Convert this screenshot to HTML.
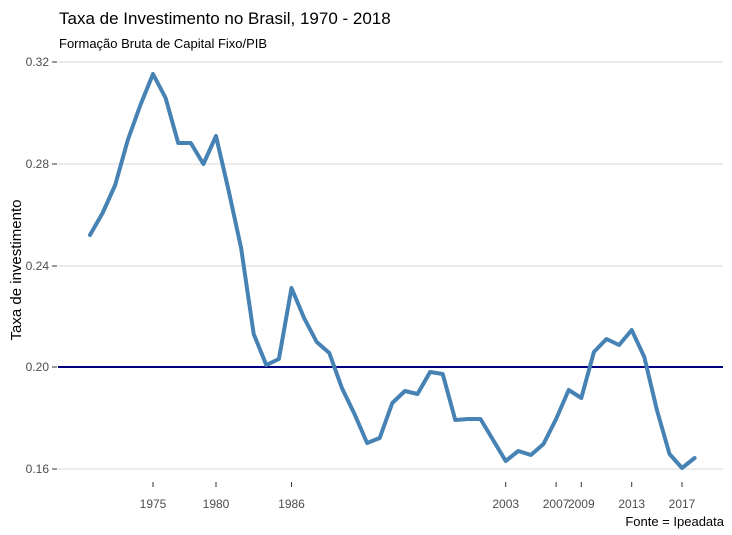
<!DOCTYPE html>
<html><head><meta charset="utf-8"><style>
body{margin:0;background:#fff;}
svg{display:block;font-family:"Liberation Sans",sans-serif;}
</style></head><body>
<svg width="732" height="535" viewBox="0 0 732 535">
<rect width="732" height="535" fill="#fff"/>
<text x="59" y="24" font-size="17" fill="#000">Taxa de Investimento no Brasil, 1970 - 2018</text>
<text x="59" y="48" font-size="13" fill="#000">Formação Bruta de Capital Fixo/PIB</text>
<g stroke="#d9d9d9" stroke-width="1">
<line x1="58" x2="723" y1="62" y2="62"/>
<line x1="58" x2="723" y1="164" y2="164"/>
<line x1="58" x2="723" y1="266" y2="266"/>
<line x1="58" x2="723" y1="367" y2="367"/>
<line x1="58" x2="723" y1="469" y2="469"/>
</g>
<g font-size="12" fill="#4d4d4d" text-anchor="end">
<text x="49" y="66">0.32</text>
<text x="49" y="168">0.28</text>
<text x="49" y="270">0.24</text>
<text x="49" y="371">0.20</text>
<text x="49" y="473">0.16</text>
</g>
<g stroke="#333" stroke-width="1">
<line x1="52" x2="57" y1="62" y2="62"/><line x1="52" x2="57" y1="164" y2="164"/>
<line x1="52" x2="57" y1="266" y2="266"/><line x1="52" x2="57" y1="367" y2="367"/>
<line x1="52" x2="57" y1="469" y2="469"/>
</g>
<text transform="translate(21,270) rotate(-90)" font-size="15" text-anchor="middle" fill="#000">Taxa de investimento</text>
<line x1="58" x2="723" y1="367" y2="367" stroke="#000080" stroke-width="2"/>
<polyline fill="none" stroke="#4682b4" stroke-width="4" stroke-linejoin="round" stroke-linecap="round"
points="90,235 102.6,213 115.2,185 127.8,140 140.4,105 153,74 165.6,98 178.2,143 190.8,143 203.4,164 216,136 228.5,190 241.1,248 253.7,334 266.3,365 278.9,359 291.5,288 304.1,318 316.7,342 329.3,353 341.9,388 354.5,414 367.1,443 379.7,438 392.3,403 404.9,391 417.5,394 430.1,372 442.7,374 455.3,420 467.9,419 480.5,419 493.1,440 505.7,461 518.3,451 530.9,455 543.5,444 556.1,419 568.7,390 581.3,398 593.9,352 606.5,339 619.1,345 631.7,330 644.3,357 656.9,410 669.5,454 682,468 694.6,458"/>
<g stroke="#333" stroke-width="1">
<line x1="153" x2="153" y1="482" y2="487"/><line x1="216" x2="216" y1="482" y2="487"/>
<line x1="291.5" x2="291.5" y1="482" y2="487"/><line x1="505.7" x2="505.7" y1="482" y2="487"/>
<line x1="556.1" x2="556.1" y1="482" y2="487"/><line x1="581.3" x2="581.3" y1="482" y2="487"/>
<line x1="631.7" x2="631.7" y1="482" y2="487"/><line x1="682" x2="682" y1="482" y2="487"/>
</g>
<g font-size="12" fill="#4d4d4d" text-anchor="middle">
<text x="153" y="508">1975</text><text x="216" y="508">1980</text><text x="291.5" y="508">1986</text>
<text x="505.7" y="508">2003</text><text x="556.1" y="508">2007</text><text x="581.3" y="508">2009</text>
<text x="631.7" y="508">2013</text><text x="682" y="508">2017</text>
</g>
<text x="724" y="526" font-size="13" text-anchor="end" fill="#000">Fonte = Ipeadata</text>
</svg>
</body></html>
